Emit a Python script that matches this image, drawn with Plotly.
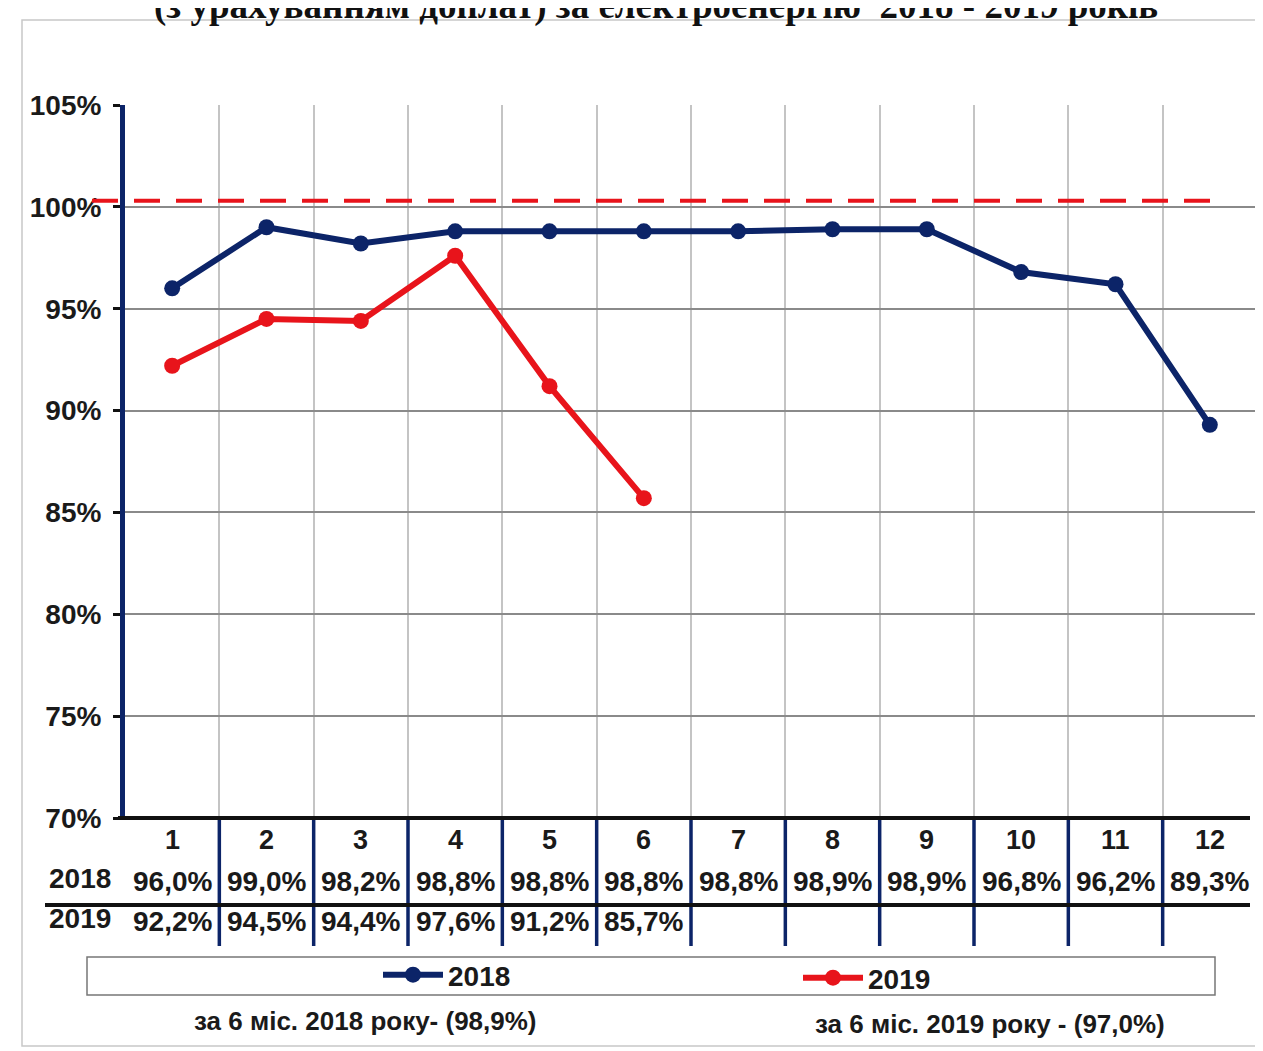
import plotly.graph_objects as go

months = [1, 2, 3, 4, 5, 6, 7, 8, 9, 10, 11, 12]
values_2018 = [96.0, 99.0, 98.2, 98.8, 98.8, 98.8, 98.8, 98.9, 98.9, 96.8, 96.2, 89.3]
months_2019 = [1, 2, 3, 4, 5, 6]
values_2019 = [92.2, 94.5, 94.4, 97.6, 91.2, 85.7]
target_level = 100.3
title_text = "(з урахуванням доплат) за електроенергію  2018 - 2019 років"
note_2018 = "за 6 міс. 2018 року- (98,9%)"
note_2019 = "за 6 міс. 2019 року - (97,0%)"

# the page body has an 8px margin, so the figure is offset by 8px
OFF = 8
W, H = 1263 - OFF, 1051 - OFF
L, R, T, B = 125 - OFF, 6, 105 - OFF, 233
PW = W - L - R
PH = H - T - B
PLOT_BOTTOM_REF = 818  # reference-page pixel of the plot bottom

NAVY = "#0c2468"
RED = "#e8141b"
FONT = "Liberation Sans"
TXT = "#1a1a1a"


def py(p):
    return (PLOT_BOTTOM_REF - p) / PH


def px(p):
    return (p - 125) / PW


def fmt(v):
    return f"{v:.1f}".replace(".", ",") + "%"


def bfont(size, family=FONT, color=TXT):
    return dict(family=family, size=size, color=color, weight="bold")


fig = go.Figure()
fig.add_trace(go.Scatter(
    x=months, y=values_2018, mode="lines+markers", name="2018", legend="legend",
    line=dict(color=NAVY, width=6), marker=dict(color=NAVY, size=16),
))
fig.add_trace(go.Scatter(
    x=months_2019, y=values_2019, mode="lines+markers", name="2019", legend="legend2",
    line=dict(color=RED, width=6), marker=dict(color=RED, size=16),
))

shapes = []
# target dashed line
shapes.append(dict(type="line", xref="paper", yref="y", x0=px(92), x1=px(1226),
                   y0=target_level, y1=target_level,
                   line=dict(color=RED, width=4, dash="26px,16px"), layer="above"))
# frame right
shapes.append(dict(type="line", xref="paper", yref="paper", x0=1, x1=1, y0=0, y1=1,
                   line=dict(color="#666", width=1.5)))
# table vertical lines
for m in months[:-1]:
    shapes.append(dict(type="line", xref="x", yref="paper", x0=m + 0.5, x1=m + 0.5,
                       y0=py(820), y1=py(946), line=dict(color=NAVY, width=3.5)))
# row separator
shapes.append(dict(type="line", xref="paper", yref="paper", x0=px(45), x1=px(1250),
                   y0=py(905), y1=py(905), line=dict(color="#111", width=4)))
# bottom axis thick line
shapes.append(dict(type="line", xref="paper", yref="paper", x0=px(118), x1=px(1250),
                   y0=0, y1=0, line=dict(color="#111", width=4)))
# legend box
shapes.append(dict(type="rect", xref="paper", yref="paper", x0=px(87), x1=px(1215),
                   y0=py(995), y1=py(957), line=dict(color="#777", width=1.5)))
# outer border
shapes.append(dict(type="rect", xref="paper", yref="paper", x0=px(22), x1=px(1258),
                   y0=py(1046), y1=py(20), line=dict(color="#c8c8c8", width=1.5)))

annotations = []


def add_text(x, y, text, font, xref="paper"):
    annotations.append(dict(x=x, y=y, xref=xref, yref="paper", text=text,
                            showarrow=False, font=font, xanchor="center",
                            yanchor="middle"))


for m in months:
    add_text(m, py(840), str(m), bfont(27), xref="x")
for m, v in zip(months, values_2018):
    add_text(m, py(881), fmt(v), bfont(28), xref="x")
for m, v in zip(months_2019, values_2019):
    add_text(m, py(921), fmt(v), bfont(28), xref="x")
for label, yy in (("2018", 879), ("2019", 919)):
    add_text(px(80), py(yy), label, bfont(28))
add_text(px(365), py(1021), note_2018, bfont(26))
add_text(px(990), py(1024), note_2019, bfont(26))
annotations.append(dict(x=px(656), y=py(29), xref="paper", yref="paper", text=title_text,
                        showarrow=False, xanchor="center", yanchor="bottom",
                        font=bfont(37, family="Liberation Serif", color="#111")))

legend_common = dict(orientation="h", yanchor="middle", xanchor="left",
                     font=bfont(28), bgcolor="rgba(0,0,0,0)", itemwidth=60)

fig.update_layout(
    width=W, height=H,
    margin=dict(l=L, r=R, t=T, b=B, autoexpand=False),
    paper_bgcolor="white", plot_bgcolor="white",
    font=dict(family=FONT, color=TXT),
    showlegend=True,
    legend=dict(x=px(378), y=py(975), **legend_common),
    legend2=dict(x=px(798), y=py(978), **legend_common),
    shapes=shapes,
    annotations=annotations,
    xaxis=dict(range=[0.5, 12.5], showticklabels=False, ticks="",
               tickvals=[m + 0.5 for m in months[:-1]], showgrid=True,
               gridcolor="#c4c4c4", gridwidth=1.5, zeroline=False, showline=False),
    yaxis=dict(range=[70, 105], dtick=5, ticksuffix="%", showgrid=True,
               gridcolor="#8a8a8a", gridwidth=1.5, zeroline=False,
               showline=True, linecolor=NAVY, linewidth=5,
               ticks="outside", ticklen=7, tickwidth=3, tickcolor="#111",
               ticklabelstandoff=6,
               tickfont=bfont(28)),
)

fig.write_html("out.html")
